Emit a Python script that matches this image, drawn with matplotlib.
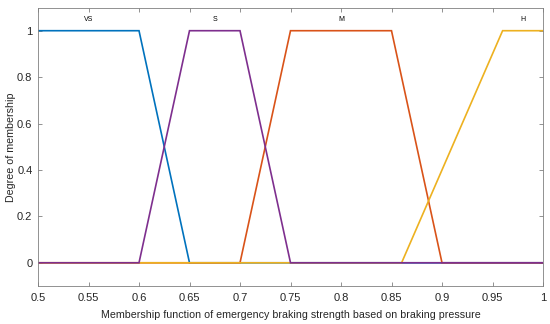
import matplotlib
matplotlib.use("Agg")
import matplotlib.pyplot as plt

plt.rcParams['font.family'] = ['Liberation Sans', 'DejaVu Sans']

names = ["VS", "M", "H", "S"]
xs = {
    "VS": [0.5, 0.6, 0.65, 1.0],
    "M": [0.5, 0.7, 0.75, 0.85, 0.9, 1.0],
    "H": [0.5, 0.86, 0.96, 1.0],
    "S": [0.5, 0.6, 0.65, 0.7, 0.75, 1.0],
}
ys = {
    "VS": [1, 1, 0, 0],
    "M": [0, 0, 1, 1, 0, 0],
    "H": [0, 0, 1, 1],
    "S": [0, 0, 1, 1, 0, 0],
}
colors = {"VS": "#0072BD", "M": "#D95319", "H": "#EDB120", "S": "#7E2F8E"}
label_x = {"VS": 0.55, "S": 0.675, "M": 0.8, "H": 0.98}
label_order = ["VS", "S", "M", "H"]

xticks = [0.5, 0.55, 0.6, 0.65, 0.7, 0.75, 0.8, 0.85, 0.9, 0.95, 1.0]
xtick_labels = ["0.5", "0.55", "0.6", "0.65", "0.7", "0.75", "0.8", "0.85", "0.9", "0.95", "1"]
yticks = [0, 0.2, 0.4, 0.6, 0.8, 1.0]
ytick_labels = ["0", "0.2", "0.4", "0.6", "0.8", "1"]

fig = plt.figure(figsize=(5.5, 3.24), dpi=100)
ax = fig.add_axes([38/550, 1 - 286/324, (543-38)/550, (286-7.5)/324])

for n in names:
    ax.plot(xs[n], ys[n], color=colors[n], lw=1.2, solid_joinstyle='miter')

for n in label_order:
    ax.text(label_x[n], 1.05, n, fontsize=5, ha='center', va='center', color='#000000')

ax.set_xlim(0.5, 1.0)
ax.set_ylim(-0.1, 1.1)
ax.set_xticks(xticks)
ax.set_xticklabels(xtick_labels)
ax.set_yticks(yticks)
ax.set_yticklabels(ytick_labels)
ax.tick_params(direction='in', top=True, right=True, length=3, width=0.6,
               colors='#808080', labelcolor='#262626', labelsize=8)
ax.tick_params(axis='x', pad=5)
ax.tick_params(axis='y', pad=4)
for s in ax.spines.values():
    s.set_color('#808080')
    s.set_linewidth(0.6)
ax.set_xlabel("Membership function of emergency braking strength based on braking pressure",
              fontsize=7.7, color='#262626', labelpad=5)
ax.set_ylabel("Degree of membership", fontsize=7.7, color='#262626', labelpad=1)

fig.savefig("out.png", dpi=100)
